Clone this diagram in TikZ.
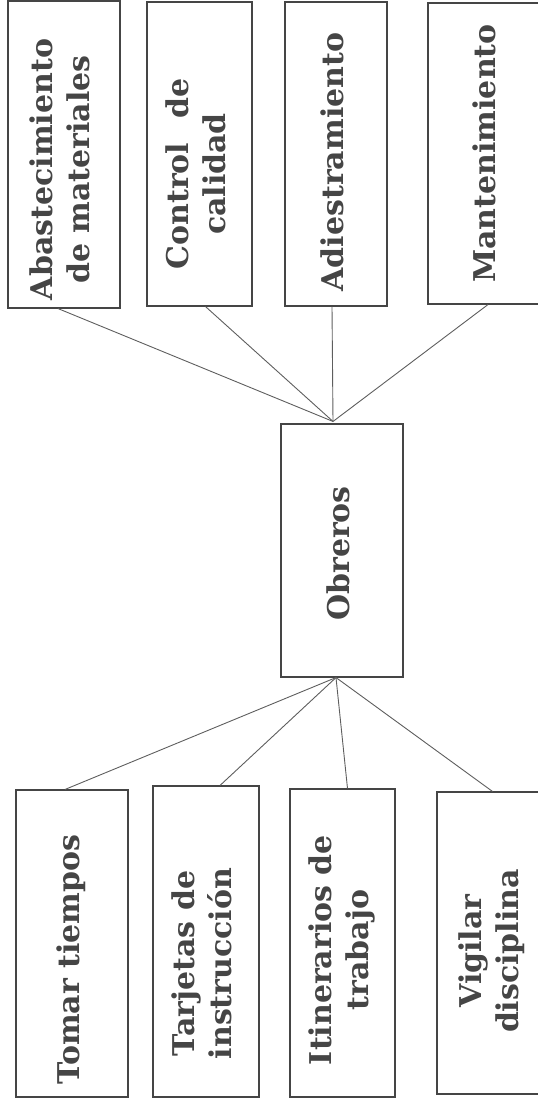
\documentclass[tikz,border=0pt]{standalone}
\usepackage{fontspec}
\setmainfont{DejaVu Serif}
\usetikzlibrary{positioning}
\definecolor{ink}{HTML}{454545}
\definecolor{wire}{HTML}{5E5E5E}
% rotated label; the optional padding pushes the text down in its box
\newcommand{\vtxt}[2][0pt]{\rotatebox{90}{\begin{tabular}{@{}c@{}}#2\end{tabular}\hspace{#1}}}

\begin{document}
\begin{tikzpicture}[
    x=1pt, y=1pt,
    box/.style={
        rectangle, draw=ink, line width=1.1pt, inner sep=0pt,
        text=ink, font=\fontsize{30}{37}\selectfont\bfseries
    },
    link/.style={draw=wire, line width=0.9pt},
]
\useasboundingbox (0,0) rectangle (538,-1103);

% Top row: support tasks
\node[box, minimum width=112pt, minimum height=307pt] (abast) at (64,-154.5)
    {\vtxt[30pt]{Abastecimiento\\de materiales}};
\node[box, minimum width=105pt, minimum height=304pt] (control) at (199.5,-154)
    {\vtxt[40pt]{Control\hspace{0.8em}de\\calidad}};
\node[box, minimum width=102pt, minimum height=304pt] (adiest) at (336,-154)
    {\vtxt[16pt]{Adiestramiento}};
\node[box, minimum width=120pt, minimum height=301pt] (manten) at (488,-153.5)
    {\vtxt{Mantenimiento}};

% Centre
\node[box, minimum width=122pt, minimum height=253pt] (obreros) at (342,-550.5)
    {\vtxt[6pt]{Obreros}};

% Bottom row: control tasks
\node[box, minimum width=112pt, minimum height=307pt] (tomar) at (72,-943.5)
    {\vtxt[32pt]{Tomar tiempos}};
\node[box, minimum width=106pt, minimum height=311pt] (tarjetas) at (206,-941.5)
    {\vtxt[44pt]{Tarjetas de\\instrucción}};
\node[box, minimum width=105pt, minimum height=308pt] (itin) at (342.5,-943)
    {\vtxt[14pt]{Itinerarios de\\trabajo}};
\node[box, minimum width=111pt, minimum height=302pt] (vigilar) at (492.5,-943)
    {\vtxt[16pt]{Vigilar\\disciplina}};

% Joints
\coordinate (topjoin) at ([xshift=-9pt, yshift=2pt]obreros.north);
\coordinate (botjoin) at ([xshift=-6pt]obreros.south);

% Upper fan
\draw[link] ([xshift=-6pt]abast.south) -- (topjoin);
\draw[link] ([xshift=6pt]control.south) -- (topjoin);
\draw[link] ([xshift=-4pt]adiest.south) -- (topjoin);
\draw[link] (manten.south) -- (topjoin);

% Lower fan
\draw[link] (botjoin) -- ([xshift=-7pt]tomar.north);
\draw[link] (botjoin) -- ([xshift=14pt]tarjetas.north);
\draw[link] (botjoin) -- ([xshift=5pt]itin.north);
\draw[link] (botjoin) -- (vigilar.north);

\end{tikzpicture}
\end{document}
